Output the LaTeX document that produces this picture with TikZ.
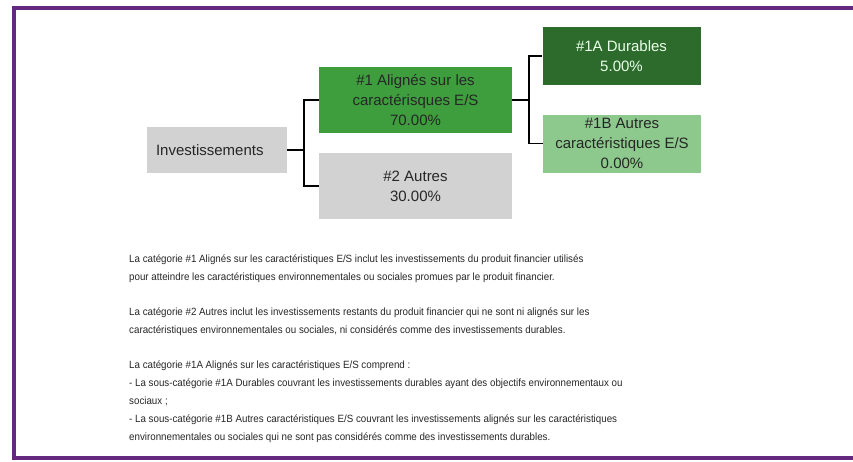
\documentclass[tikz,border=0pt]{standalone}
\usepackage{fontspec}
\setmainfont{Liberation Sans}
\newfontfamily\notefont{Liberation Sans}[FakeStretch=0.93]
\usepackage{xcolor}
\usetikzlibrary{positioning}
\definecolor{framepurple}{HTML}{64287F}
\definecolor{boxgrey}{HTML}{D2D2D2}
\definecolor{midgreen}{HTML}{3E9E3E}
\definecolor{darkgreen}{HTML}{2C6B2C}
\definecolor{lightgreen}{HTML}{8DC98D}
\definecolor{labeltext}{HTML}{262626}
\tikzstyle{rootbox} = [rectangle, fill=boxgrey, text=labeltext, minimum width=140pt, minimum height=46pt, text width=122pt, inner xsep=9pt, align=left, font=\fontsize{15}{20}\selectfont]
\tikzstyle{catbox} = [rectangle, minimum width=193pt, minimum height=66pt, inner sep=1pt, align=center, text=labeltext, font=\fontsize{15}{20}\selectfont]
\tikzstyle{subbox} = [rectangle, minimum width=158pt, minimum height=58pt, inner sep=1pt, align=center, text=labeltext, font=\fontsize{15}{20}\selectfont]
\tikzstyle{para} = [anchor=north west, inner sep=0pt, align=left, text=labeltext, font=\notefont\fontsize{10.5}{18}\selectfont]
\tikzstyle{link} = [line width=1.8pt, draw=black]

\begin{document}
\begin{tikzpicture}[x=1pt, y=1pt]
        \useasboundingbox (0,0) rectangle (853,-461);
        % Frame
        \draw [framepurple, line width=4.5pt] (853,-8) -- (14,-8) -- (14,-458) -- (853,-458);

        % Nodes
        \node (inv) [rootbox] at (217,-150) {Investissements};
        \node (cat1) [catbox, fill=midgreen] at (415.5,-100) {\#1 Alignés sur les\\caractérisques E/S\\70.00\%};
        \node (cat2) [catbox, fill=boxgrey] at (415.5,-186) {\#2 Autres\\30.00\%};
        \node (cat1a) [subbox, fill=darkgreen, text=white!92!green] at (621.5,-56) {\#1A Durables\\5.00\%};
        \node (cat1b) [subbox, fill=lightgreen] at (622,-143.5) {\#1B Autres\\caractéristiques E/S\\0.00\%};

        % Notes
        \node (note1) [para] at (129,-255) {La catégorie \#1 Alignés sur les caractéristiques E/S inclut les investissements du produit financier utilisés\\pour atteindre les caractéristiques environnementales ou sociales promues par le produit financier.};
        \node (note2) [para, below=24pt of note1.south west, anchor=north west] {La catégorie \#2 Autres inclut les investissements restants du produit financier qui ne sont ni alignés sur les\\caractéristiques environnementales ou sociales, ni considérés comme des investissements durables.};
        \node (note3) [para, below=25pt of note2.south west, anchor=north west] {La catégorie \#1A Alignés sur les caractéristiques E/S comprend :\\- La sous-catégorie \#1A Durables couvrant les investissements durables ayant des objectifs environnementaux ou\\sociaux ;\\- La sous-catégorie \#1B Autres caractéristiques E/S couvrant les investissements alignés sur les caractéristiques\\environnementales ou sociales qui ne sont pas considérés comme des investissements durables.};

        % Connectors
        \draw [link] (inv.east) -- ++(17,0) |- (cat1.west);
        \draw [link] (inv.east) -- ++(17,0) |- (cat2.west);
        \draw [link] (cat1.east) -- ++(17,0) |- (cat1a.west);
        \draw [link] (cat1.east) -- ++(17,0) |- (cat1b.west);
    \end{tikzpicture}
\end{document}
